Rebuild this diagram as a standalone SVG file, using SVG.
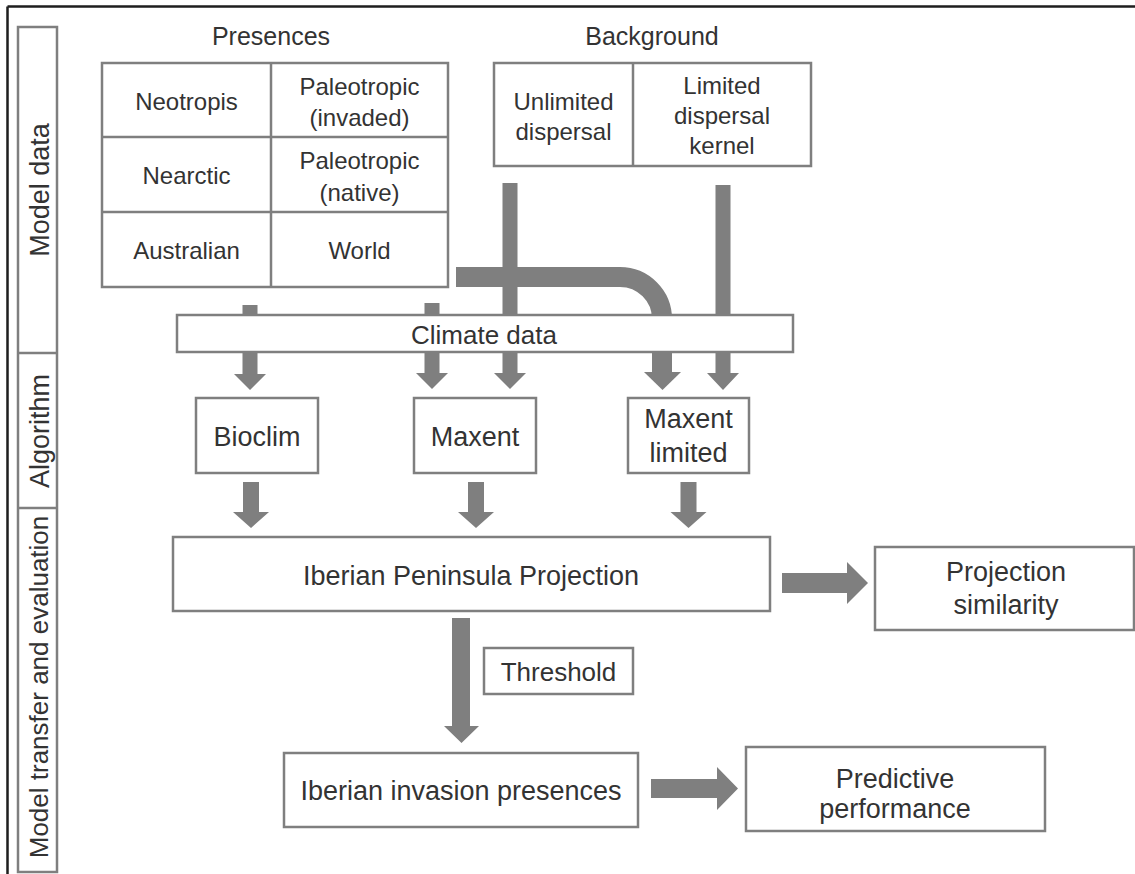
<svg xmlns="http://www.w3.org/2000/svg" width="1135" height="874" viewBox="0 0 1135 874">
  <style>
    .box { fill: #ffffff; stroke: #7f7f7f; stroke-width: 2.5; }
    .grid { fill: none; stroke: #7f7f7f; stroke-width: 2.5; }
    .frame { fill: none; stroke: #1e1e1e; stroke-width: 2.5; }
    .arrow { fill: #7f7f7f; stroke: none; }
    .pipe { fill: none; stroke: #7f7f7f; }
    text { font-family: "Liberation Sans", Arial, sans-serif; fill: #333333; text-anchor: middle; }
    .t24 { font-size: 24px; }
    .t25 { font-size: 25px; }
    .t26 { font-size: 26px; }
    .t27 { font-size: 27px; }
  </style>

  <!-- outer frame (top and left edges) -->
  <path class="frame" d="M7.5 6.5 H 1135 M7.5 6.5 V 874"/>

  <!-- stage column on the left -->
  <g id="stages">
    <rect class="box" x="18" y="27" width="39" height="845"/>
    <line class="grid" x1="18" y1="353" x2="57" y2="353"/>
    <line class="grid" x1="18" y1="508" x2="57" y2="508"/>
    <text class="t27" transform="translate(49,190) rotate(-90)">Model data</text>
    <text class="t27" transform="translate(49,431) rotate(-90)">Algorithm</text>
    <text class="t26" transform="translate(48,687) rotate(-90)">Model transfer and evaluation</text>
  </g>

  <!-- connectors -->
  <g id="connectors">
    <!-- presences to Bioclim -->
    <polygon class="arrow" points="242.5,305 257.5,305 257.5,374 266,374 250,390 234,374 242.5,374"/>
    <!-- presences to Maxent -->
    <polygon class="arrow" points="424.5,303 439.5,303 439.5,373 448,373 432,389 416,373 424.5,373"/>
    <!-- unlimited dispersal background to Maxent -->
    <polygon class="arrow" points="502.5,183 517.5,183 517.5,373 526,373 510,389 494,373 502.5,373"/>
    <!-- World presences to Maxent limited (curved pipe) -->
    <path class="pipe" stroke-width="20" d="M456 277 H620 A42 42 0 0 1 662 319 V374"/>
    <polygon class="arrow" points="644,372 681,372 662.5,390"/>
    <!-- limited dispersal kernel to Maxent limited -->
    <polygon class="arrow" points="715.5,185 730.5,185 730.5,373 739,373 723,390 707,373 715.5,373"/>

    <!-- algorithms to projection -->
    <polygon class="arrow" points="243,482 259,482 259,512 269,512 251,528 233,512 243,512"/>
    <polygon class="arrow" points="468,482 484,482 484,512 494,512 476,528 458,512 468,512"/>
    <polygon class="arrow" points="680.5,482 696.5,482 696.5,512 706.5,512 688.5,528 670.5,512 680.5,512"/>

    <!-- projection to similarity -->
    <polygon class="arrow" points="782,573 847,573 847,562 868,583 847,604 847,593 782,593"/>
    <!-- projection to invasion presences (thresholded) -->
    <polygon class="arrow" points="452,618 470,618 470,726 479,726 461.5,743 444,726 452,726"/>
    <!-- invasion presences to predictive performance -->
    <polygon class="arrow" points="651,779 717,779 717,767 738,788.5 717,810 717,798 651,798"/>
  </g>

  <!-- presences table -->
  <g id="presences">
    <text class="t25" x="271" y="45">Presences</text>
    <rect class="box" x="102" y="63" width="346" height="224"/>
    <line class="grid" x1="271" y1="63" x2="271" y2="287"/>
    <line class="grid" x1="102" y1="137" x2="448" y2="137"/>
    <line class="grid" x1="102" y1="212" x2="448" y2="212"/>
    <text class="t24" x="186.5" y="110">Neotropis</text>
    <text class="t24" x="359.5" y="95">Paleotropic</text>
    <text class="t24" x="359.5" y="126">(invaded)</text>
    <text class="t24" x="186.5" y="184">Nearctic</text>
    <text class="t24" x="359.5" y="169">Paleotropic</text>
    <text class="t24" x="359.5" y="201">(native)</text>
    <text class="t24" x="186.5" y="259">Australian</text>
    <text class="t24" x="359.5" y="259">World</text>
  </g>

  <!-- background table -->
  <g id="background">
    <text class="t25" x="652" y="45">Background</text>
    <rect class="box" x="494" y="63" width="317" height="103"/>
    <line class="grid" x1="633" y1="63" x2="633" y2="166"/>
    <text class="t24" x="563.5" y="110">Unlimited</text>
    <text class="t24" x="563.5" y="140">dispersal</text>
    <text class="t24" x="722" y="94">Limited</text>
    <text class="t24" x="722" y="124">dispersal</text>
    <text class="t24" x="722" y="154">kernel</text>
  </g>

  <g id="climate">
    <rect class="box" x="177" y="315" width="616" height="37"/>
    <text class="t26" x="484" y="344">Climate data</text>
  </g>

  <g id="bioclim">
    <rect class="box" x="196" y="398" width="122" height="75"/>
    <text class="t27" x="257" y="446">Bioclim</text>
  </g>

  <g id="maxent">
    <rect class="box" x="414" y="398" width="122" height="75"/>
    <text class="t27" x="475" y="446">Maxent</text>
  </g>

  <g id="maxent-limited">
    <rect class="box" x="628" y="398" width="121" height="75"/>
    <text class="t27" x="688.5" y="428">Maxent</text>
    <text class="t27" x="688.5" y="462">limited</text>
  </g>

  <g id="projection">
    <rect class="box" x="173" y="537" width="597" height="74"/>
    <text class="t27" x="471" y="585">Iberian Peninsula Projection</text>
  </g>

  <g id="similarity">
    <rect class="box" x="875" y="547" width="259" height="83"/>
    <text class="t27" x="1006" y="581">Projection</text>
    <text class="t27" x="1006" y="614">similarity</text>
  </g>

  <g id="threshold">
    <rect class="box" x="484" y="648" width="149" height="46"/>
    <text class="t26" x="558.5" y="681">Threshold</text>
  </g>

  <g id="invasion">
    <rect class="box" x="284" y="753" width="354" height="74"/>
    <text class="t27" x="461" y="800">Iberian invasion presences</text>
  </g>

  <g id="performance">
    <rect class="box" x="746" y="747" width="299" height="84"/>
    <text class="t27" x="895" y="788">Predictive</text>
    <text class="t27" x="895" y="818">performance</text>
  </g>
</svg>
